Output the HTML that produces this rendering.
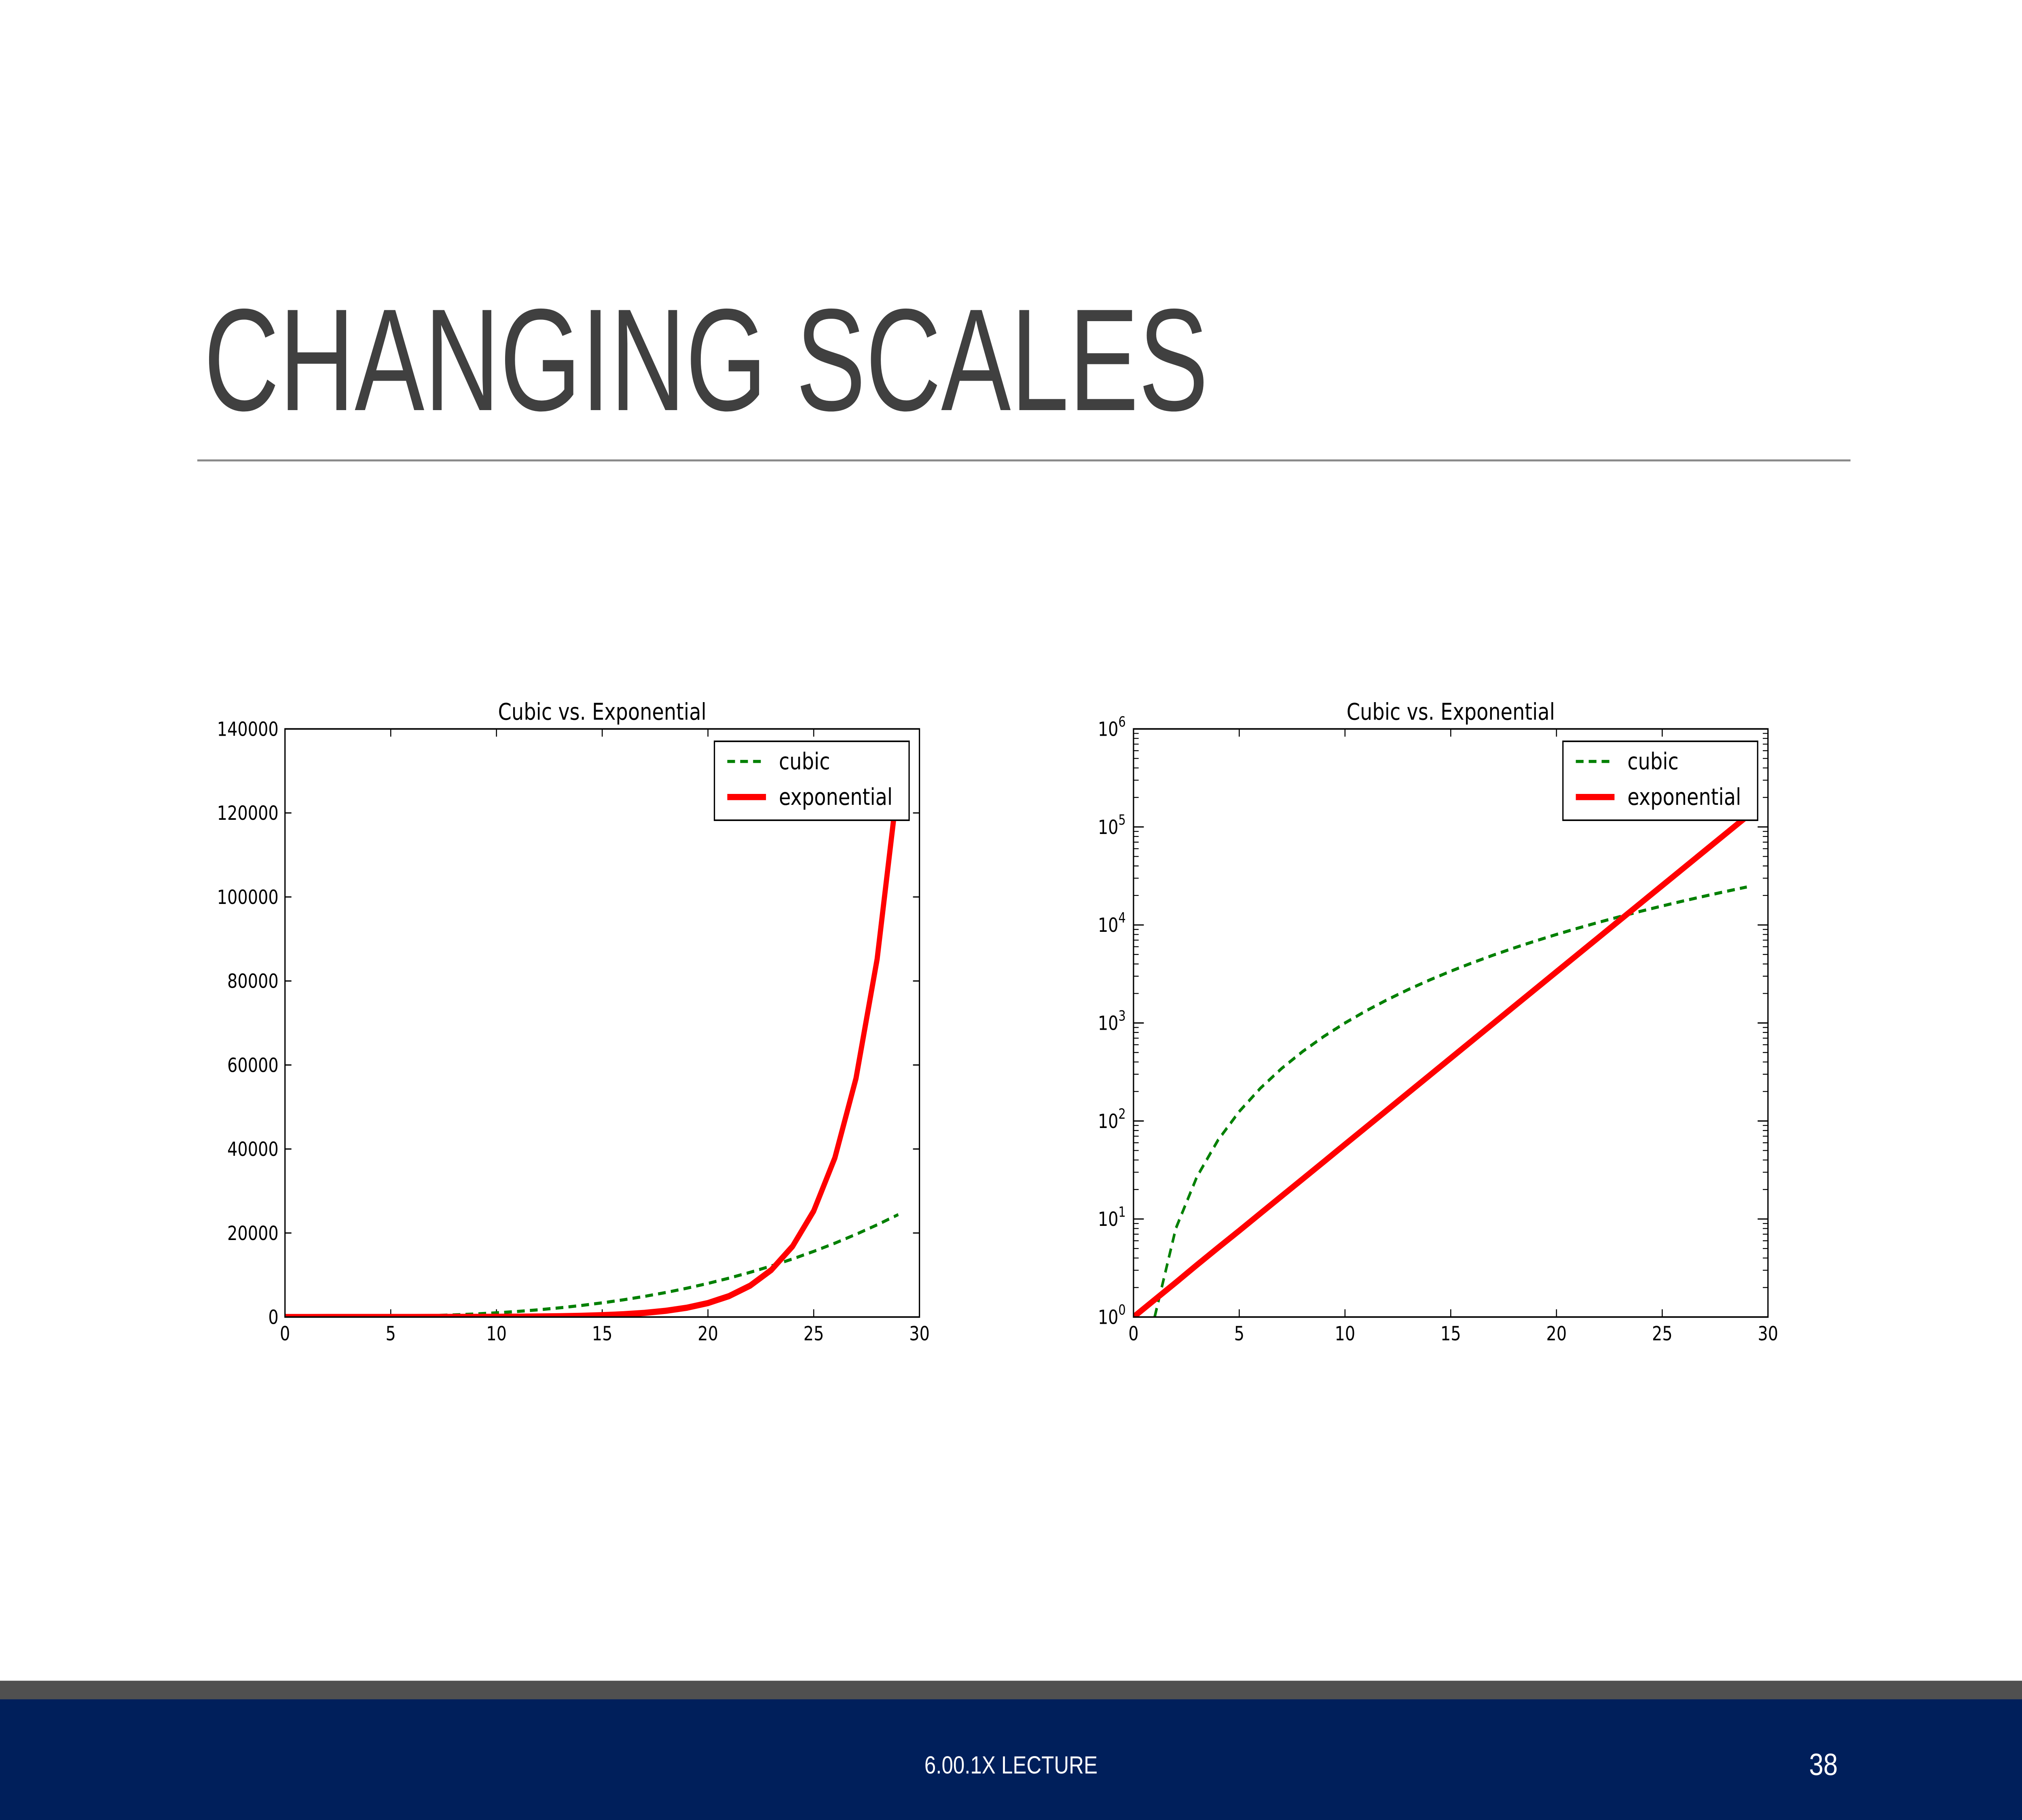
<!DOCTYPE html>
<html><head><meta charset="utf-8"><style>
html,body{margin:0;padding:0;background:#fff;width:100%;height:100%;overflow:hidden;}
svg{display:block;width:100vw;height:100vh;}
</style></head><body>
<svg id="slide" viewBox="0 0 1568 1176" preserveAspectRatio="none" xmlns="http://www.w3.org/2000/svg" font-family="'DejaVu Sans', 'Liberation Sans', sans-serif">
<rect width="1568" height="1176" fill="#fff"/>
<text x="158" y="265" font-family="'Liberation Sans', sans-serif" font-size="94" fill="#404040" textLength="779" lengthAdjust="spacingAndGlyphs">CHANGING SCALES</text>
<line x1="153" y1="297.5" x2="1435" y2="297.5" stroke="#8a8a8a" stroke-width="1.3"/>
<rect x="0" y="1086" width="1568" height="12" fill="#505050"/>
<rect x="0" y="1098" width="1568" height="78" fill="#001f5b"/>
<text x="784" y="1146" text-anchor="middle" font-family="'Liberation Sans', sans-serif" font-size="16" fill="#fff">6.00.1X LECTURE</text>
<text x="1414" y="1147" text-anchor="middle" font-family="'Liberation Sans', sans-serif" font-size="20" fill="#fff">38</text>
<g id="chartL"></g>
<g id="chartR"></g>
</svg>
<script>
const xValues = [0,1,2,3,4,5,6,7,8,9,10,11,12,13,14,15,16,17,18,19,20,21,22,23,24,25,26,27,28,29];
const cubicValues = [0,1,8,27,64,125,216,343,512,729,1000,1331,1728,2197,2744,3375,4096,4913,5832,6859,8000,9261,10648,12167,13824,15625,17576,19683,21952,24389];
const expValues = [1,1.5,2.25,3.4,5.1,7.6,11.4,17.1,25.6,38.4,57.7,86.5,129.7,194.6,291.9,437.9,656.8,985.3,1478,2217,3325,4988,7482,11223,16834,25251,37877,56815,85223,127834];
const xTicks = [0,5,10,15,20,25,30];
const yTicksLinear = [0,20000,40000,60000,80000,100000,120000,140000];
const yTicksLogExp = [0,1,2,3,4,5,6];
const chartTitle = "Cubic vs. Exponential";
const legendLabels = ["cubic","exponential"];

const NS = "http://www.w3.org/2000/svg";
function mk(parent, tag, attrs, text){
  const e = document.createElementNS(NS, tag);
  for (const k in attrs) e.setAttribute(k, attrs[k]);
  if (text !== undefined) e.textContent = text;
  parent.appendChild(e);
  return e;
}

function drawChart(g, left, isLog){
  const L = left, R = left + 492, T = 471, B = 851;
  const sx = v => L + (v - 0) / 30 * (R - L);
  const sy = isLog ? (v => B - (Math.log10(v) / 6) * (B - T)) : (v => B - v / 140000 * (B - T));
  const t = mk(g, 'text', {x:(L+R)/2, y:465, 'text-anchor':'middle', 'font-size':15, fill:'#000'}, chartTitle);
  
  
  xTicks.forEach(v => {
    const x = sx(v);
    const tk = mk(g, 'path', {d:`M${x},${B}v-5M${x},${T}v5`, stroke:'#000', 'stroke-width':0.8});
    
    
    const lb = mk(g, 'text', {x:x, y:B+15, 'text-anchor':'middle', 'font-size':12.5, fill:'#000'}, String(v));
    
    
  });
  if (!isLog){
    yTicksLinear.forEach(v => {
      const y = sy(v);
      const tk = mk(g, 'path', {d:`M${L},${y}h5M${R},${y}h-5`, stroke:'#000', 'stroke-width':0.8});
      
      
      const lb = mk(g, 'text', {x:L-5, y:y+4.5, 'text-anchor':'end', 'font-size':12.5, fill:'#000'}, String(v));
      
      
    });
  } else {
    yTicksLogExp.forEach(p => {
      const y = sy(Math.pow(10, p));
      const tk = mk(g, 'path', {d:`M${L},${y}h8M${R},${y}h-8`, stroke:'#000', 'stroke-width':0.8});
      
      
      const lb = mk(g, 'text', {x:L-6, y:y+4.5, 'text-anchor':'end', 'font-size':12.5, fill:'#000'});
      
      
      mk(lb, 'tspan', {}, '10');
      mk(lb, 'tspan', {dy:-6, 'font-size':9}, String(p));
      if (p < 6) for (let m = 2; m <= 9; m++){
        const ym = sy(m * Math.pow(10, p));
        const mt = mk(g, 'path', {d:`M${L},${ym}h4M${R},${ym}h-4`, stroke:'#000', 'stroke-width':0.6});
        
        
      }
    });
  }
  const clipId = 'clip' + left;
  const cp = mk(g, 'clipPath', {id:clipId});
  mk(cp, 'rect', {x:L, y:T, width:R-L, height:B-T});
  const cpts = [], epts = [];
  xValues.forEach((x, i) => {
    if (!isLog || cubicValues[i] > 0) cpts.push(sx(x).toFixed(2) + ',' + sy(cubicValues[i]).toFixed(2));
    epts.push(sx(x).toFixed(2) + ',' + sy(expValues[i]).toFixed(2));
  });
  const cl = mk(g, 'polyline', {points:cpts.join(' '), fill:'none', stroke:'#008000', 'stroke-width':2, 'stroke-dasharray':'6,4', 'clip-path':`url(#${clipId})`});
  
  
  const el = mk(g, 'polyline', {points:epts.join(' '), fill:'none', stroke:'#ff0000', 'stroke-width':4, 'stroke-linejoin':'round', 'clip-path':`url(#${clipId})`});
  
  
  const frame = mk(g, 'rect', {x:L, y:T, width:R-L, height:B-T, fill:'none', stroke:'#000', 'stroke-width':1});
  
  
  const lg = mk(g, 'g', {});
  
  
  const lx = R - 159;
  mk(lg, 'rect', {x:lx, y:479, width:151, height:51, fill:'#fff', stroke:'#000', 'stroke-width':1});
  const e1 = mk(lg, 'line', {x1:lx+10, y1:492, x2:lx+40, y2:492, stroke:'#008000', 'stroke-width':2, 'stroke-dasharray':'6,4'});
  
  
  const t1 = mk(lg, 'text', {x:lx+50, y:497, 'font-size':15, fill:'#000'}, legendLabels[0]);
  
  
  const e2 = mk(lg, 'line', {x1:lx+10, y1:515, x2:lx+40, y2:515, stroke:'#ff0000', 'stroke-width':4});
  
  
  const t2 = mk(lg, 'text', {x:lx+50, y:520, 'font-size':15, fill:'#000'}, legendLabels[1]);
  
  
}
drawChart(document.getElementById('chartL'), 221, false);
drawChart(document.getElementById('chartR'), 879, true);
</script>
</body></html>
